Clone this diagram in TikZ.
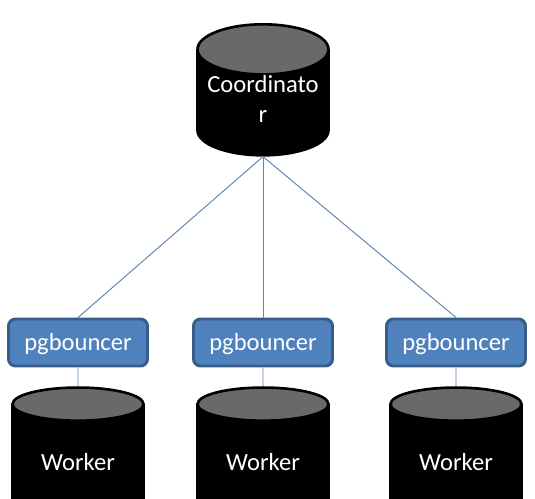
\documentclass[tikz,border=0pt]{standalone}
\usepackage{fontspec}
\setmainfont{Carlito}
\usetikzlibrary{positioning, shapes.geometric}

\tikzset{
    database/.style={cylinder, shape border rotate=90, shape aspect=0.45, cylinder uses custom fill,
        cylinder body fill=black, cylinder end fill=dbtop, draw=black, line width=1.5pt,
        minimum width=2.62cm, minimum height=2.62cm, inner sep=0pt, text=white, align=center,
        font=\fontsize{14}{16.6}\selectfont},
    pooler/.style={rectangle, rounded corners=4pt, fill=poolfill, draw=poolline, line width=1.7pt,
        minimum width=2.78cm, minimum height=0.94cm, inner sep=0pt, text=white,
        text height=12pt, text depth=3pt, font=\fontsize{14}{16.6}\selectfont},
    link/.style={draw=linkblue, line width=0.55pt}
}
\definecolor{dbtop}{HTML}{696969}
\definecolor{poolfill}{HTML}{4F81BD}
\definecolor{poolline}{HTML}{385D8A}
\definecolor{linkblue}{HTML}{5B86B5}

\begin{document}
\begin{tikzpicture}[node distance=2.39cm, on grid]
    \useasboundingbox (0,0) rectangle (10.7,-9.98);
    \clip (0,0) rectangle (10.7,-9.98);

    % Coordinator
    \node[database] (coord) at (5.26,-2.06) {Coordinato\\r\rule[-0.16cm]{0pt}{0pt}};

    % Poolers
    \node[pooler, below=4.79cm of coord] (pool2) {pgbouncer};
    \node[pooler, left=3.7cm of pool2] (pool1) {pgbouncer};
    \node[pooler, right=3.86cm of pool2] (pool3) {pgbouncer};

    % Workers
    \node[database, below=of pool1] (work1) {Worker};
    \node[database, below=of pool2] (work2) {Worker};
    \node[database, below=of pool3] (work3) {Worker};

    % Links
    \draw[link] (coord.south) -- (pool1.north);
    \draw[link] (coord.south) -- (pool2.north);
    \draw[link] (coord.south) -- (pool3.north);
    \draw[link] (pool1.south) -- (work1.north);
    \draw[link] (pool2.south) -- (work2.north);
    \draw[link] (pool3.south) -- (work3.north);
\end{tikzpicture}
\end{document}
